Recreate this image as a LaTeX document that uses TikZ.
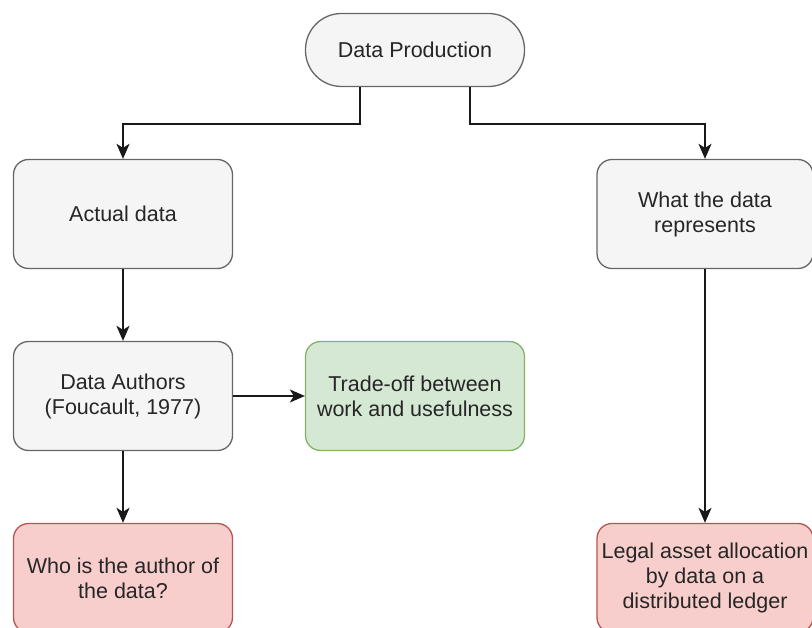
\documentclass[tikz,border=0pt]{standalone}
\usepackage{fontspec}
\setmainfont{Liberation Sans}
\usetikzlibrary{arrows.meta,positioning,calc}
\definecolor{grayfill}{HTML}{F5F5F5}
\definecolor{graystroke}{HTML}{666666}
\definecolor{greenfill}{HTML}{D5E8D4}
\definecolor{greenstroke}{HTML}{82B366}
\definecolor{redfill}{HTML}{F8CECC}
\definecolor{redstroke}{HTML}{B85450}
\tikzset{
  box/.style={draw=graystroke, fill=grayfill, line width=1.3pt, rounded corners=15pt,
    minimum width=219pt, minimum height=109pt, align=center, inner sep=0pt,
    font=\fontsize{21.5}{25}\selectfont, text=black!85},
  greenbox/.style={box, draw=greenstroke, fill=greenfill},
  redbox/.style={box, draw=redstroke, fill=redfill},
  terminal/.style={box, rounded corners=36pt, minimum height=73pt},
  arr/.style={draw=black!90, line width=1.8pt, -{Stealth[length=15pt,width=13pt,inset=4pt]}},
}
\begin{document}
\begin{tikzpicture}[x=1pt,y=-1pt]
\useasboundingbox (0,0) rectangle (812,628);
\node[terminal] (dp) at (415,50) {Data Production};
\node[box] (actual) at (123,214) {Actual data};
\node[box, minimum width=216pt] (what) at (705,214) {What the data\\represents};
\node[box] (authors) at (123,396) {Data Authors\\(Foucault, 1977)};
\node[greenbox] (trade) at (415,396) {Trade-off between\\work and usefulness};
\node[redbox] (who) at (123,578) {Who is the author of\\the data?};
\node[redbox, minimum width=216pt] (legal) at (705,578) {Legal asset allocation\\by data on a\\distributed ledger};
\draw[arr] ([xshift=-55pt]dp.south) -- ++(0,37) -| (actual.north);
\draw[arr] ([xshift=55pt]dp.south) -- ++(0,37) -| (what.north);
\draw[arr] (actual) -- (authors);
\draw[arr] (authors) -- (trade);
\draw[arr] (authors) -- (who);
\draw[arr] (what) -- (legal);
\end{tikzpicture}
\end{document}
